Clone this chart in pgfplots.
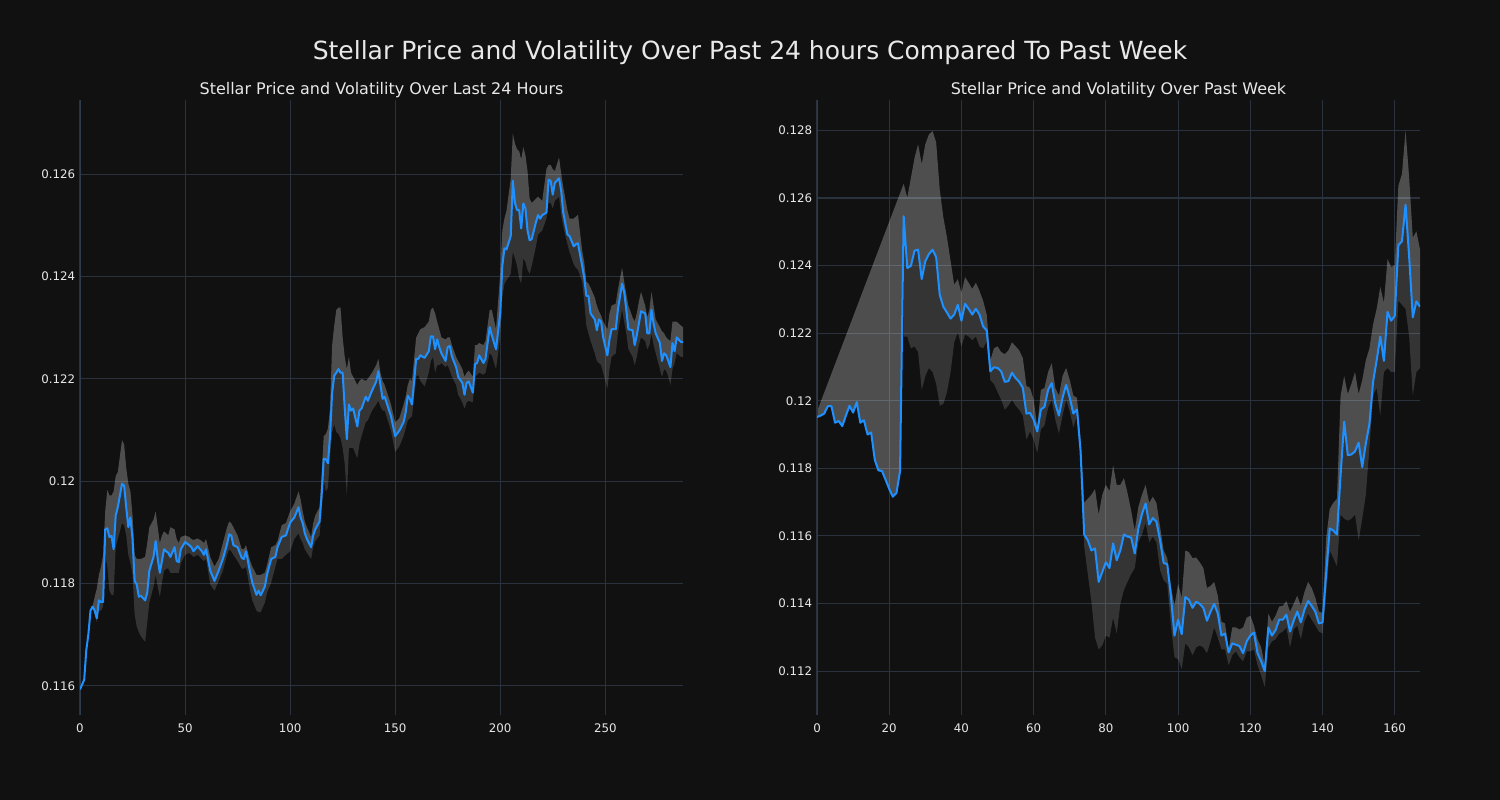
\documentclass[border=0pt]{standalone}
\usepackage{fontspec}
\setmainfont{DejaVu Sans}
\usepackage{xcolor}
\usepackage{pgfplots}
\usepackage{pgfplotstable}
\usepgfplotslibrary{fillbetween}
\pgfplotsset{compat=1.18}
\definecolor{bg}{HTML}{111111}
\definecolor{gridc}{HTML}{2A323D}
\definecolor{spinec}{HTML}{2F3A4A}
\definecolor{linec}{HTML}{1E90FF}
\definecolor{txt}{HTML}{E8E8E8}
\pagecolor{bg}

\pgfplotstableread{
x p u l
0 0.11593 0.11593 0.11593
2 0.11612 0.11612 0.11612
3 0.11670 0.11670 0.11670
4 0.11701 0.11701 0.11701
5 0.11747 0.11747 0.11747
6 0.11755 0.11755 0.11755
7 0.11747 0.11774 0.11740
8 0.11732 0.11790 0.11724
9 0.11767 0.11817 0.11747
10 0.11764 0.11833 0.11747
11 0.11764 0.11856 0.11755
12 0.11906 0.11941 0.11856
13 0.11908 0.11983 0.11833
14 0.11891 0.11972 0.11786
15 0.11893 0.11972 0.11778
16 0.11867 0.11980 0.11778
17 0.11933 0.12010 0.11871
18 0.11949 0.12018 0.11887
19 0.11972 0.12049 0.11902
20 0.11995 0.12080 0.11918
21 0.11991 0.12072 0.11914
22 0.11949 0.12026 0.11894
23 0.11910 0.11995 0.11856
24 0.11929 0.11980 0.11840
25 0.11887 0.11933 0.11817
26 0.11805 0.11856 0.11740
27 0.11798 0.11848 0.11716
28 0.11774 0.11848 0.11705
29 0.11776 0.11848 0.11697
31 0.11767 0.11852 0.11686
32 0.11782 0.11879 0.11724
33 0.11825 0.11910 0.11763
35 0.11852 0.11925 0.11794
36 0.11883 0.11941 0.11817
37 0.11848 0.11910 0.11794
38 0.11821 0.11879 0.11774
39 0.11844 0.11894 0.11802
40 0.11867 0.11902 0.11825
41 0.11863 0.11898 0.11829
42 0.11860 0.11894 0.11829
43 0.11852 0.11910 0.11821
45 0.11871 0.11906 0.11821
46 0.11844 0.11887 0.11821
47 0.11842 0.11879 0.11821
48 0.11867 0.11891 0.11840
50 0.11881 0.11894 0.11856
52 0.11875 0.11891 0.11860
53 0.11871 0.11887 0.11856
54 0.11863 0.11885 0.11852
56 0.11873 0.11888 0.11856
58 0.11863 0.11883 0.11848
59 0.11856 0.11879 0.11844
60 0.11867 0.11887 0.11848
62 0.11825 0.11852 0.11798
64 0.11805 0.11833 0.11786
66 0.11825 0.11848 0.11805
68 0.11848 0.11879 0.11825
70 0.11877 0.11910 0.11856
71 0.11896 0.11921 0.11867
72 0.11894 0.11918 0.11863
73 0.11875 0.11910 0.11856
75 0.11871 0.11894 0.11844
77 0.11850 0.11867 0.11829
78 0.11848 0.11867 0.11829
79 0.11863 0.11875 0.11833
81 0.11821 0.11844 0.11786
82 0.11802 0.11833 0.11767
84 0.11778 0.11817 0.11747
85 0.11786 0.11817 0.11744
86 0.11777 0.11817 0.11744
88 0.11794 0.11821 0.11763
89 0.11817 0.11836 0.11782
91 0.11848 0.11871 0.11802
93 0.11852 0.11875 0.11833
94 0.11871 0.11883 0.11848
96 0.11891 0.11914 0.11848
98 0.11894 0.11918 0.11856
100 0.11919 0.11941 0.11863
102 0.11929 0.11956 0.11887
104 0.11949 0.11980 0.11898
105 0.11929 0.11964 0.11887
106 0.11918 0.11941 0.11879
107 0.11898 0.11921 0.11867
108 0.11887 0.11910 0.11860
110 0.11871 0.11891 0.11848
111 0.11894 0.11918 0.11871
112 0.11906 0.11933 0.11883
114 0.11921 0.11949 0.11894
115 0.11972 0.12010 0.11941
116 0.12044 0.12088 0.12003
117 0.12043 0.12092 0.11980
118 0.12035 0.12103 0.11987
119 0.12088 0.12142 0.12049
120 0.12173 0.12266 0.12096
121 0.12206 0.12304 0.12111
122 0.12212 0.12335 0.12096
123 0.12219 0.12339 0.12092
124 0.12212 0.12339 0.12084
125 0.12212 0.12281 0.12065
126 0.12142 0.12243 0.12034
127 0.12082 0.12219 0.11972
128 0.12150 0.12243 0.12065
129 0.12138 0.12212 0.12065
130 0.12142 0.12204 0.12065
132 0.12107 0.12188 0.12045
133 0.12138 0.12196 0.12072
134 0.12142 0.12200 0.12088
136 0.12165 0.12196 0.12115
137 0.12157 0.12200 0.12119
139 0.12177 0.12212 0.12138
141 0.12195 0.12227 0.12150
142 0.12215 0.12239 0.12157
143 0.12188 0.12212 0.12146
144 0.12161 0.12196 0.12138
145 0.12165 0.12188 0.12138
148 0.12127 0.12150 0.12099
150 0.12088 0.12115 0.12057
152 0.12099 0.12123 0.12068
154 0.12115 0.12150 0.12088
155 0.12134 0.12165 0.12103
156 0.12167 0.12188 0.12119
157 0.12161 0.12200 0.12123
158 0.12150 0.12196 0.12127
160 0.12239 0.12281 0.12204
161 0.12239 0.12289 0.12208
162 0.12246 0.12297 0.12196
164 0.12241 0.12301 0.12185
166 0.12254 0.12312 0.12212
167 0.12283 0.12335 0.12235
168 0.12283 0.12339 0.12243
169 0.12258 0.12328 0.12212
170 0.12277 0.12312 0.12227
171 0.12262 0.12297 0.12227
172 0.12250 0.12281 0.12231
174 0.12235 0.12277 0.12223
175 0.12262 0.12281 0.12227
176 0.12264 0.12281 0.12216
177 0.12244 0.12266 0.12204
179 0.12223 0.12243 0.12188
180 0.12204 0.12235 0.12169
182 0.12192 0.12219 0.12154
183 0.12169 0.12204 0.12142
184 0.12192 0.12212 0.12154
185 0.12195 0.12216 0.12157
187 0.12173 0.12204 0.12154
188 0.12229 0.12266 0.12204
189 0.12231 0.12266 0.12208
190 0.12246 0.12270 0.12212
192 0.12231 0.12266 0.12208
193 0.12239 0.12274 0.12212
195 0.12301 0.12335 0.12250
196 0.12285 0.12335 0.12246
198 0.12258 0.12297 0.12219
200 0.12328 0.12405 0.12281
201 0.12421 0.12490 0.12359
202 0.12455 0.12513 0.12386
203 0.12453 0.12529 0.12393
205 0.12479 0.12591 0.12405
206 0.12587 0.12680 0.12448
207 0.12544 0.12660 0.12436
208 0.12530 0.12649 0.12421
209 0.12530 0.12645 0.12397
210 0.12494 0.12629 0.12386
211 0.12543 0.12653 0.12436
212 0.12533 0.12637 0.12428
213 0.12490 0.12606 0.12413
214 0.12471 0.12552 0.12405
215 0.12473 0.12544 0.12421
217 0.12506 0.12552 0.12459
218 0.12520 0.12556 0.12482
219 0.12513 0.12552 0.12486
220 0.12520 0.12548 0.12490
222 0.12525 0.12610 0.12513
223 0.12589 0.12618 0.12544
224 0.12587 0.12618 0.12544
225 0.12560 0.12610 0.12533
226 0.12583 0.12606 0.12548
228 0.12592 0.12633 0.12556
229 0.12568 0.12602 0.12521
230 0.12525 0.12575 0.12498
232 0.12482 0.12529 0.12463
233 0.12479 0.12513 0.12448
235 0.12459 0.12513 0.12424
236 0.12463 0.12517 0.12417
237 0.12465 0.12521 0.12413
239 0.12421 0.12451 0.12390
240 0.12397 0.12428 0.12351
241 0.12362 0.12390 0.12304
242 0.12362 0.12386 0.12289
243 0.12328 0.12378 0.12274
245 0.12316 0.12359 0.12250
246 0.12295 0.12343 0.12235
247 0.12316 0.12332 0.12231
248 0.12312 0.12324 0.12227
249 0.12281 0.12312 0.12212
251 0.12246 0.12297 0.12181
252 0.12277 0.12328 0.12219
253 0.12297 0.12343 0.12243
255 0.12297 0.12347 0.12250
256 0.12335 0.12374 0.12289
258 0.12386 0.12417 0.12335
259 0.12370 0.12390 0.12312
260 0.12335 0.12366 0.12289
261 0.12297 0.12343 0.12258
263 0.12295 0.12320 0.12243
264 0.12266 0.12312 0.12227
265 0.12285 0.12328 0.12243
266 0.12308 0.12351 0.12266
267 0.12332 0.12370 0.12281
269 0.12328 0.12343 0.12274
270 0.12289 0.12320 0.12258
271 0.12289 0.12335 0.12266
272 0.12335 0.12370 0.12289
273 0.12308 0.12343 0.12266
274 0.12289 0.12316 0.12250
276 0.12270 0.12301 0.12219
277 0.12235 0.12293 0.12204
278 0.12250 0.12289 0.12219
279 0.12246 0.12281 0.12216
280 0.12235 0.12277 0.12204
281 0.12223 0.12274 0.12188
282 0.12270 0.12312 0.12219
283 0.12254 0.12312 0.12231
284 0.12281 0.12312 0.12250
286 0.12272 0.12304 0.12243
287 0.12272 0.12301 0.12243
}\leftdata

\pgfplotstableread{
x p
0 0.11952
1 0.11956
2 0.11962
3 0.11984
4 0.11984
5 0.11935
6 0.11940
7 0.11925
8 0.11956
9 0.11985
10 0.11965
11 0.11996
12 0.11935
13 0.11942
14 0.11900
15 0.11906
16 0.11825
17 0.11794
18 0.11792
19 0.11766
20 0.11739
21 0.11716
22 0.11727
23 0.11792
24 0.12546
25 0.12393
26 0.12399
27 0.12444
28 0.12447
29 0.12360
30 0.12413
31 0.12434
32 0.12447
33 0.12425
34 0.12313
35 0.12278
36 0.12261
37 0.12243
38 0.12255
39 0.12284
40 0.12237
41 0.12287
42 0.12272
43 0.12255
44 0.12272
45 0.12255
46 0.12220
47 0.12208
48 0.12087
49 0.12099
50 0.12097
51 0.12087
52 0.12056
53 0.12058
54 0.12083
55 0.12067
56 0.12056
57 0.12038
58 0.11962
59 0.11964
60 0.11944
61 0.11909
62 0.11974
63 0.11982
64 0.12032
65 0.12052
66 0.11991
67 0.11956
68 0.12009
69 0.12047
70 0.12009
71 0.11962
72 0.11974
73 0.11850
74 0.11604
75 0.11587
76 0.11557
77 0.11563
78 0.11464
79 0.11493
80 0.11522
81 0.11505
82 0.11578
83 0.11528
84 0.11557
85 0.11604
86 0.11598
87 0.11595
88 0.11548
89 0.11622
90 0.11665
91 0.11696
92 0.11634
93 0.11653
94 0.11642
95 0.11587
96 0.11520
97 0.11516
98 0.11423
99 0.11305
100 0.11352
101 0.11309
102 0.11419
103 0.11411
104 0.11387
105 0.11405
106 0.11399
107 0.11387
108 0.11349
109 0.11376
110 0.11399
111 0.11370
112 0.11305
113 0.11311
114 0.11255
115 0.11282
116 0.11278
117 0.11274
118 0.11253
119 0.11288
120 0.11305
121 0.11314
122 0.11253
123 0.11229
124 0.11200
125 0.11329
126 0.11305
127 0.11321
128 0.11352
129 0.11352
130 0.11367
131 0.11317
132 0.11349
133 0.11376
134 0.11344
135 0.11382
136 0.11407
137 0.11393
138 0.11376
139 0.11341
140 0.11344
141 0.11487
142 0.11622
143 0.11616
144 0.11604
145 0.11780
146 0.11938
147 0.11839
148 0.11841
149 0.11850
150 0.11876
151 0.11804
152 0.11874
153 0.11932
154 0.12056
155 0.12120
156 0.12190
157 0.12118
158 0.12263
159 0.12237
160 0.12251
161 0.12460
162 0.12472
163 0.12580
164 0.12425
165 0.12247
166 0.12294
167 0.12278
}\rightp

\pgfplotstableread{
x u
0 0.11968
24 0.12642
25 0.12601
26 0.12659
27 0.12718
28 0.12759
29 0.12700
30 0.12759
31 0.12788
32 0.12798
33 0.12765
34 0.12624
35 0.12542
36 0.12483
37 0.12413
38 0.12343
39 0.12360
40 0.12319
41 0.12366
42 0.12349
43 0.12331
44 0.12349
45 0.12325
46 0.12296
47 0.12255
48 0.12120
49 0.12155
50 0.12161
51 0.12144
52 0.12138
53 0.12149
54 0.12173
55 0.12161
56 0.12149
57 0.12126
58 0.12044
59 0.12038
60 0.12003
61 0.11921
62 0.12032
63 0.12038
64 0.12085
65 0.12111
66 0.12038
67 0.12015
68 0.12073
69 0.12097
70 0.12061
71 0.12015
72 0.12009
73 0.11886
74 0.11698
75 0.11710
76 0.11722
77 0.11739
78 0.11663
79 0.11722
80 0.11751
81 0.11733
82 0.11809
83 0.11751
84 0.11751
85 0.11771
86 0.11727
87 0.11675
88 0.11616
89 0.11686
90 0.11722
91 0.11751
92 0.11698
93 0.11716
94 0.11698
95 0.11628
96 0.11557
97 0.11534
98 0.11452
99 0.11393
100 0.11458
101 0.11417
102 0.11557
103 0.11552
104 0.11534
105 0.11536
106 0.11522
107 0.11505
108 0.11446
109 0.11452
110 0.11464
111 0.11423
112 0.11346
113 0.11341
114 0.11264
115 0.11329
116 0.11329
117 0.11323
118 0.11329
119 0.11358
120 0.11364
121 0.11335
122 0.11294
123 0.11270
124 0.11217
125 0.11370
126 0.11346
127 0.11364
128 0.11391
129 0.11393
130 0.11407
131 0.11376
132 0.11399
133 0.11423
134 0.11393
135 0.11434
136 0.11464
137 0.11446
138 0.11417
139 0.11376
140 0.11372
141 0.11593
142 0.11680
143 0.11698
144 0.11710
145 0.12015
146 0.12073
147 0.12020
148 0.12050
149 0.12085
150 0.12020
151 0.12061
152 0.12120
153 0.12155
154 0.12226
155 0.12272
156 0.12337
157 0.12290
158 0.12419
159 0.12396
160 0.12401
161 0.12636
162 0.12671
163 0.12800
164 0.12659
165 0.12483
166 0.12501
167 0.12448
}\rightu

\pgfplotstableread{
x l
24 0.12190
25 0.12190
26 0.12155
27 0.12161
28 0.12144
29 0.12032
30 0.12073
31 0.12097
32 0.12085
33 0.12050
34 0.11985
35 0.11991
36 0.12026
37 0.12085
38 0.12173
39 0.12202
40 0.12161
41 0.12196
42 0.12190
43 0.12179
44 0.12190
45 0.12161
46 0.12155
47 0.12176
48 0.12061
49 0.12050
50 0.12026
51 0.12003
52 0.11974
53 0.11985
54 0.12003
55 0.11985
56 0.11974
57 0.11956
58 0.11886
59 0.11909
60 0.11886
61 0.11845
62 0.11915
63 0.11927
64 0.11979
65 0.12003
66 0.11944
67 0.11903
68 0.11956
69 0.12003
70 0.11968
71 0.11921
72 0.11956
73 0.11839
74 0.11569
75 0.11487
76 0.11405
77 0.11299
78 0.11264
79 0.11276
80 0.11305
81 0.11299
82 0.11358
83 0.11311
84 0.11399
85 0.11440
86 0.11464
87 0.11487
88 0.11505
89 0.11581
90 0.11604
91 0.11639
92 0.11581
93 0.11598
94 0.11581
95 0.11499
96 0.11469
97 0.11458
98 0.11335
99 0.11241
100 0.11235
101 0.11206
102 0.11282
103 0.11270
104 0.11247
105 0.11270
106 0.11276
107 0.11270
108 0.11253
109 0.11288
110 0.11329
111 0.11299
112 0.11264
113 0.11264
114 0.11217
115 0.11247
116 0.11258
117 0.11241
118 0.11229
119 0.11258
120 0.11258
121 0.11264
122 0.11217
123 0.11188
124 0.11153
125 0.11270
126 0.11288
127 0.11294
128 0.11311
129 0.11317
130 0.11329
131 0.11270
132 0.11323
133 0.11335
134 0.11294
135 0.11346
136 0.11370
137 0.11352
138 0.11335
139 0.11317
140 0.11311
141 0.11428
142 0.11557
143 0.11534
144 0.11510
145 0.11663
146 0.11651
147 0.11645
148 0.11651
149 0.11663
150 0.11587
151 0.11651
152 0.11722
153 0.11862
154 0.12015
155 0.12038
156 0.11956
157 0.12085
158 0.12097
159 0.12085
160 0.12085
161 0.12296
162 0.12284
163 0.12272
164 0.12190
165 0.12015
166 0.12085
167 0.12097
}\rightl

\pgfplotsset{
  darkax/.style={
    scale only axis,
    width=434.16bp, height=442.8bp,
    anchor=south west,
    axis line style={draw=none},
    major tick length=0pt,
    grid=major,
    grid style={gridc, line width=0.75bp},
    tick label style={text=txt, font=\fontsize{8.5bp}{10bp}\selectfont},
    /pgf/number format/assume math mode=true,
    xticklabel style={yshift=-3bp},
    title style={text=txt, font=\fontsize{11.5bp}{14bp}\selectfont, at={(0.5,1)}, anchor=base, yshift=-2.2bp},
    scaled y ticks=false,
    clip=true,
  }
}

\begin{document}
\begin{tikzpicture}
\path (0,0) rectangle (1080bp,576bp);
\node[text=txt, font=\fontsize{18bp}{21bp}\selectfont, anchor=base] at (540bp,533bp) {Stellar Price and Volatility Over Past 24 hours Compared To Past Week};

\begin{axis}[darkax,
  at={(57.6bp,61.2bp)},
  xmin=0, xmax=287, ymin=0.11543, ymax=0.12745,
  xtick={0,50,100,150,200,250},
  ytick={0.116,0.118,0.120,0.122,0.124,0.126},
  yticklabels={0.116,0.118,0.12,0.122,0.124,0.126},
  title={Stellar Price and Volatility Over Last 24 Hours},
]
\draw[spinec, line width=1.1bp] (rel axis cs:0,0) -- (rel axis cs:0,1);
\addplot[name path=P, draw=none, forget plot] table[x=x,y=p]{\leftdata};
\addplot[name path=U, draw=none, forget plot] table[x=x,y=u]{\leftdata};
\addplot[name path=L, draw=none, forget plot] table[x=x,y=l]{\leftdata};
\addplot[fill=white, fill opacity=0.26, draw=none] fill between[of=P and U];
\addplot[fill=white, fill opacity=0.15, draw=none] fill between[of=P and L];
\addplot[linec, line width=1.45bp, line join=round] table[x=x,y=p]{\leftdata};
\end{axis}

\begin{axis}[darkax,
  at={(588.24bp,61.2bp)},
  xmin=0, xmax=167, ymin=0.1107, ymax=0.1289,
  xtick={0,20,40,60,80,100,120,140,160},
  ytick={0.112,0.114,0.116,0.118,0.120,0.122,0.124,0.126,0.128},
  yticklabels={0.112,0.114,0.116,0.118,0.12,0.122,0.124,0.126,0.128},
  title={Stellar Price and Volatility Over Past Week},
]
\draw[spinec, line width=1.1bp] (rel axis cs:0,0) -- (rel axis cs:0,1);
\addplot[name path=RP, draw=none, forget plot] table[x=x,y=p]{\rightp};
\addplot[name path=RU, draw=none, forget plot] table[x=x,y=u]{\rightu};
\addplot[name path=RL, draw=none, forget plot] table[x=x,y=l]{\rightl};
\addplot[fill=white, fill opacity=0.26, draw=none] fill between[of=RP and RU];
\addplot[fill=white, fill opacity=0.15, draw=none] fill between[of=RP and RL, soft clip={domain=24:167}];
\addplot[linec, line width=1.45bp, line join=round] table[x=x,y=p]{\rightp};
\end{axis}
\end{tikzpicture}
\end{document}
